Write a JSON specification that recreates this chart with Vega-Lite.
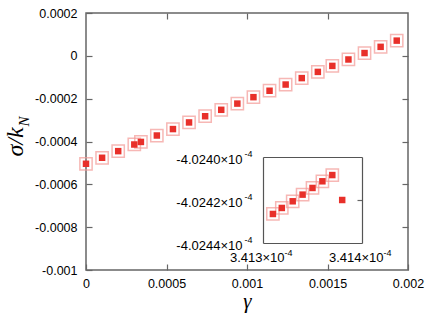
{
  "$schema": "https://vega.github.io/schema/vega-lite/v6.json",
  "width": 322,
  "height": 257,
  "autosize": {"type": "none"},
  "padding": {"left": 86, "top": 13, "right": 28, "bottom": 57},
  "background": "white",
  "config": {
    "view": {"stroke": "#666", "strokeWidth": 1.5},
    "axis": {
      "labelFont": "Liberation Sans",
      "labelFontSize": 12.5,
      "labelColor": "#000",
      "labelFlush": false,
      "labelOverlap": false,
      "grid": false,
      "tickColor": "#666",
      "tickWidth": 1.2,
      "domainColor": "#555",
      "domainWidth": 1.2,
      "titleColor": "#000"
    }
  },
  "datasets": {
    "main": [
      {"g": 0, "s": -0.000504},
      {"g": 0.0001, "s": -0.000476},
      {"g": 0.0002, "s": -0.000445},
      {"g": 0.0003, "s": -0.000414},
      {"g": 0.000341, "s": -0.000402},
      {"g": 0.00044, "s": -0.000372},
      {"g": 0.00054, "s": -0.000342},
      {"g": 0.00064, "s": -0.000311},
      {"g": 0.00074, "s": -0.000282},
      {"g": 0.00084, "s": -0.000252},
      {"g": 0.00094, "s": -0.000223},
      {"g": 0.00104, "s": -0.000193},
      {"g": 0.00114, "s": -0.000163},
      {"g": 0.00124, "s": -0.000134},
      {"g": 0.00134, "s": -0.000104},
      {"g": 0.00144, "s": -0.000075},
      {"g": 0.00153, "s": -0.000047},
      {"g": 0.00163, "s": -0.000017},
      {"g": 0.00173, "s": 0.000013},
      {"g": 0.00183, "s": 0.000042},
      {"g": 0.00193, "s": 0.000071}
    ],
    "inset": [
      {"g": 0.00034131, "s": -0.0004024265, "b": true},
      {"g": 0.000341319, "s": -0.0004024237, "b": true},
      {"g": 0.00034133, "s": -0.0004024206, "b": true},
      {"g": 0.00034134, "s": -0.0004024175, "b": true},
      {"g": 0.00034135, "s": -0.0004024144, "b": true},
      {"g": 0.00034136, "s": -0.0004024113, "b": true},
      {"g": 0.00034137, "s": -0.0004024084, "b": true},
      {"g": 0.00034138, "s": -0.00040242, "b": false}
    ]
  },
  "layer": [
    {
      "data": {"name": "main"},
      "layer": [
        {
          "mark": {"type": "square", "filled": false, "size": 150, "stroke": "#f49a96", "strokeWidth": 1.5},
          "encoding": {
            "x": {
              "field": "g", "type": "quantitative",
              "scale": {"domain": [0, 0.002], "nice": false, "zero": false},
              "axis": {
                "orient": "bottom",
                "values": [0, 0.0005, 0.001, 0.0015, 0.002],
                "labelExpr": "replace(format(datum.value, '~g'), '−', '-')",
                "tickSize": -6,
                "labelPadding": 13,
                "domain": false,
                "title": "γ",
                "titleFont": "Liberation Serif",
                "titleFontStyle": "italic",
                "titleFontWeight": "normal",
                "titleFontSize": 21,
                "titleBaseline": "alphabetic",
                "titleY": 37
              }
            },
            "y": {
              "field": "s", "type": "quantitative",
              "scale": {"domain": [-0.001, 0.0002], "nice": false, "zero": false},
              "axis": {
                "orient": "left",
                "values": [-0.001, -0.0008, -0.0006, -0.0004, -0.0002, 0, 0.0002],
                "labelExpr": "replace(format(datum.value, '~g'), '−', '-')",
                "tickSize": -6,
                "labelPadding": 15,
                "domain": false,
                "title": "σ/k",
                "titleFont": "Liberation Serif",
                "titleFontStyle": "italic",
                "titleFontWeight": "normal",
                "titleFontSize": 24,
                "titleBaseline": "alphabetic",
                "titleAngle": 270,
                "titleX": -64
              }
            }
          }
        },
        {
          "mark": {"type": "square", "filled": true, "size": 42, "color": "#e8302a", "opacity": 1},
          "encoding": {
            "x": {
              "field": "g", "type": "quantitative",
              "scale": {"domain": [0, 0.002], "nice": false, "zero": false},
              "axis": {"orient": "top", "values": [0.0005, 0.001, 0.0015], "labels": false, "tickSize": -6, "domain": false, "title": null}
            },
            "y": {
              "field": "s", "type": "quantitative",
              "scale": {"domain": [-0.001, 0.0002], "nice": false, "zero": false},
              "axis": {"orient": "right", "values": [-0.0008, -0.0006, -0.0004, -0.0002, 0], "labels": false, "tickSize": -6, "domain": false, "title": null}
            }
          }
        },
        {
          "mark": {"type": "square", "opacity": 0},
          "encoding": {
            "y": {
              "field": "s", "type": "quantitative",
              "scale": {"domain": [-0.001, 0.0002], "nice": false, "zero": false},
              "axis": {
                "orient": "left", "labels": false, "ticks": false, "domain": false,
                "title": "N",
                "titleFont": "Liberation Serif",
                "titleFontStyle": "italic",
                "titleFontWeight": "normal",
                "titleFontSize": 15,
                "titleBaseline": "alphabetic",
                "titleAngle": 270,
                "titleX": -58,
                "titleY": 108
              }
            }
          }
        }
      ],
      "resolve": {"axis": {"x": "independent", "y": "independent"}}
    },
    {
      "data": {"name": "inset"},
      "layer": [
        {
          "transform": [{"filter": "datum.b"}],
          "mark": {"type": "square", "filled": false, "size": 150, "stroke": "#f49a96", "strokeWidth": 1.5},
          "encoding": {
            "x": {
              "field": "g", "type": "quantitative",
              "scale": {"domain": [0.0003413, 0.0003414], "range": [177, 276], "nice": false, "zero": false},
              "axis": {
                "orient": "bottom", "offset": -27,
                "values": [0.0003413, 0.0003414],
                "labelExpr": "format(datum.value * 10000, '.3f') + '×10'",
                "labelFontSize": 13,
                "labelAlign": "right",
                "labelOffset": 21,
                "ticks": false, "labelPadding": 8, "domain": true, "title": null
              }
            },
            "y": {
              "field": "s", "type": "quantitative",
              "scale": {"domain": [-0.00040244, -0.0004024], "range": [230, 144], "nice": false, "zero": false},
              "axis": {
                "orient": "left", "offset": -177,
                "values": [-0.00040244, -0.00040242, -0.0004024],
                "labelExpr": "'-' + format(-datum.value * 10000, '.4f') + '×10'",
                "labelFontSize": 13,
                "labelOffset": 2,
                "ticks": false, "labelPadding": 21, "domain": true, "title": null
              }
            }
          }
        },
        {
          "mark": {"type": "square", "filled": true, "size": 42, "color": "#e8302a", "opacity": 1},
          "encoding": {
            "x": {
              "field": "g", "type": "quantitative",
              "scale": {"domain": [0.0003413, 0.0003414], "range": [177, 276], "nice": false, "zero": false},
              "axis": {"orient": "top", "offset": -144, "labels": false, "ticks": false, "domain": true, "title": null}
            },
            "y": {
              "field": "s", "type": "quantitative",
              "scale": {"domain": [-0.00040244, -0.0004024], "range": [230, 144], "nice": false, "zero": false},
              "axis": {"orient": "right", "offset": -46, "values": [-0.00040242], "labels": false, "tickSize": -5, "domain": true, "title": null}
            }
          }
        },
        {
          "mark": {"type": "square", "opacity": 0},
          "encoding": {
            "x": {
              "field": "g", "type": "quantitative",
              "scale": {"domain": [0.0003413, 0.0003414], "range": [177, 276], "nice": false, "zero": false},
              "axis": {
                "orient": "bottom", "offset": -27,
                "values": [0.0003413, 0.0003414],
                "labelExpr": "'-4'",
                "labelFontSize": 9,
                "labelAlign": "left",
                "labelOffset": 21,
                "ticks": false, "labelPadding": 5, "domain": false, "title": null
              }
            },
            "y": {
              "field": "s", "type": "quantitative",
              "scale": {"domain": [-0.00040244, -0.0004024], "range": [230, 144], "nice": false, "zero": false},
              "axis": {
                "orient": "left", "offset": -177,
                "values": [-0.00040244, -0.00040242, -0.0004024],
                "labelExpr": "'-4'",
                "labelFontSize": 9,
                "labelOffset": -4,
                "ticks": false, "labelPadding": 11, "domain": false, "title": null
              }
            }
          }
        }
      ],
      "resolve": {"axis": {"x": "independent", "y": "independent"}}
    }
  ],
  "resolve": {
    "scale": {"x": "independent", "y": "independent"},
    "axis": {"x": "independent", "y": "independent"}
  }
}
